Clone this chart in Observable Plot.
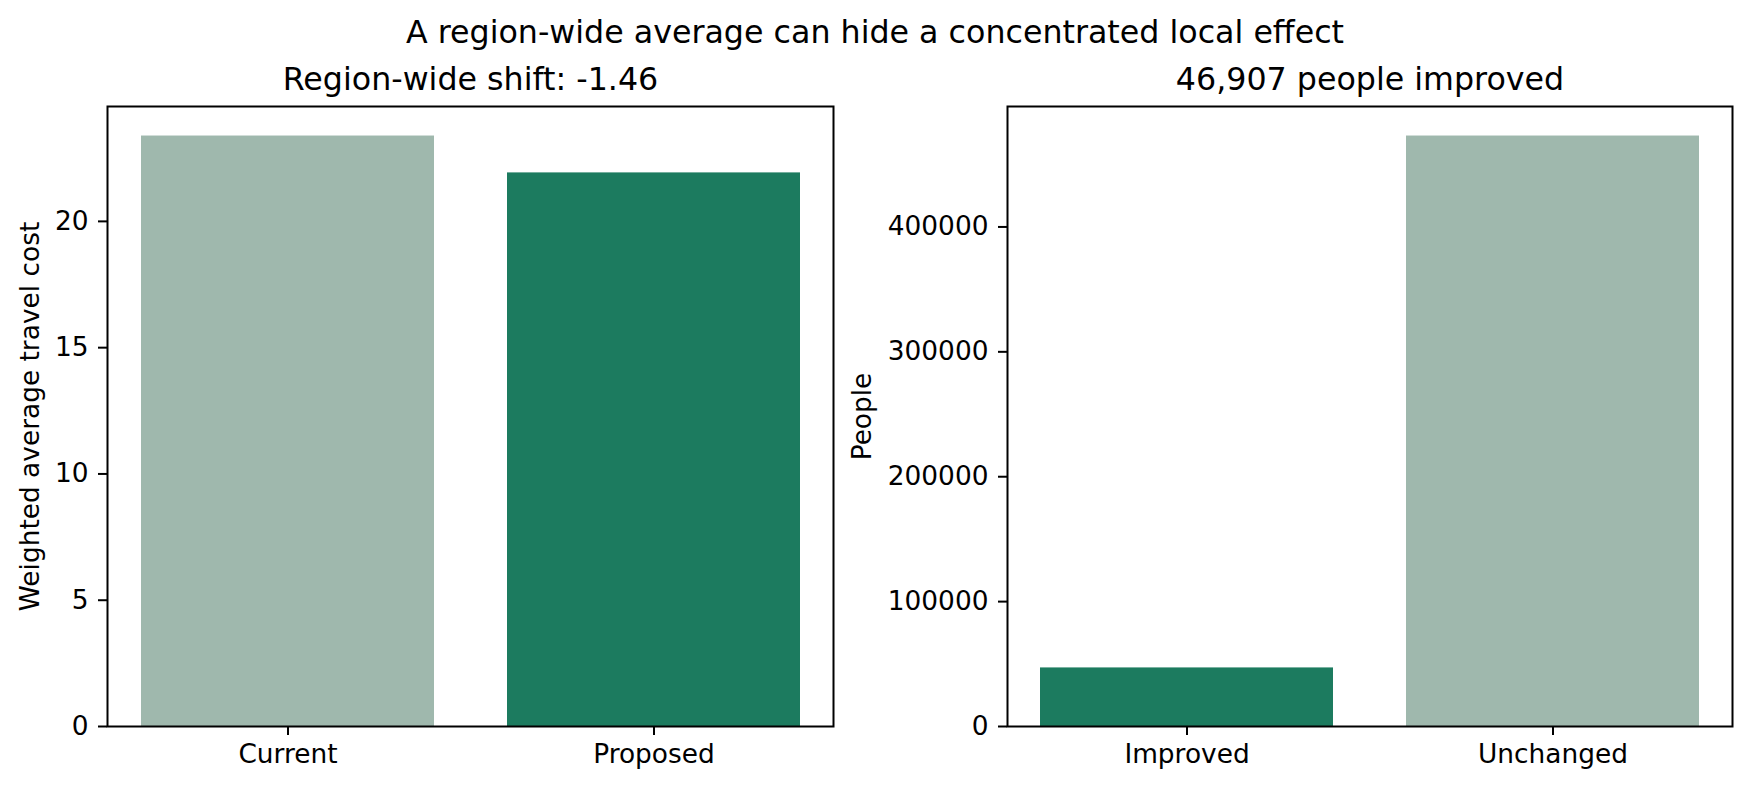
<!DOCTYPE html>
<html>
<head>
<meta charset="utf-8">
<script src="https://cdn.jsdelivr.net/npm/d3@7"></script>
<script src="https://cdn.jsdelivr.net/npm/@observablehq/plot@0.6"></script>
<style>
  body { margin: 0; background: white; font-family: "DejaVu Sans", sans-serif; }
  #fig { position: relative; width: 1750px; height: 790px; }
  #suptitle { position: absolute; left: 0; top: 0; width: 1750px; height: 64px; line-height: 64px; text-align: center; font-size: 31.7px; color: black; }
  #left { position: absolute; left: 0; top: 56px; }
  #right { position: absolute; left: 850px; top: 56px; }
</style>
</head>
<body>
<div id="fig">
  <div id="suptitle">A region-wide average can hide a concentrated local effect</div>
  <div id="left"></div>
  <div id="right"></div>
</div>
<script>
// values
const costLabels = ["Current", "Proposed"];
const costValues = [23.38, 21.92];
const costTicks = [0, 5, 10, 15, 20];

const peopleLabels = ["Improved", "Unchanged"];
const peopleValues = [46907, 472800];
const peopleTicks = [0, 100000, 200000, 300000, 400000];

const light = "#9fb8ad";
const dark = "#1c7b5f";
const highlighted = ["Proposed", "Improved"];

function panel({labels, values, ticks, title, ylabel, labelDx, marginLeft, marginRight, width}) {
  const data = labels.map((label, i) => ({label, value: values[i]}));
  return Plot.plot({
    width,
    height: 734,
    marginTop: 50,
    marginBottom: 64,
    marginLeft,
    marginRight,
    style: {fontFamily: "DejaVu Sans", fontSize: "26.4px", color: "black", background: "white", overflow: "visible"},
    x: {domain: labels, paddingInner: 0.2, paddingOuter: 0.09, label: null},
    // matplotlib style 5% headroom above the tallest bar
    y: {domain: [0, d3.max(values) * 1.05], label: null},
    marks: [
      Plot.barY(data, {x: "label", y: "value", fill: (d) => highlighted.includes(d.label) ? dark : light}),
      Plot.frame({stroke: "black", strokeWidth: 2}),
      Plot.axisY(ticks, {tickSize: 9, tickPadding: 10, strokeWidth: 2, tickFormat: d3.format("d"), label: null}),
      Plot.axisX({tickSize: 9, tickPadding: 9, strokeWidth: 2, label: null}),
      Plot.text([title], {frameAnchor: "top", dy: -27, fontSize: 31.7, lineAnchor: "middle"}),
      Plot.text([ylabel], {frameAnchor: "left", dx: labelDx, rotate: -90, textAnchor: "middle", lineAnchor: "middle"})
    ]
  });
}

const shift = costValues[1] - costValues[0];

document.getElementById("left").append(panel({
  labels: costLabels, values: costValues, ticks: costTicks,
  title: `Region-wide shift: ${shift.toFixed(2)}`,
  ylabel: "Weighted average travel cost",
  labelDx: -77, marginLeft: 107, marginRight: 17, width: 850
}));

document.getElementById("right").append(panel({
  labels: peopleLabels, values: peopleValues, ticks: peopleTicks,
  title: `${d3.format(",")(peopleValues[0])} people improved`,
  ylabel: "People",
  labelDx: -145, marginLeft: 157, marginRight: 18, width: 900
}));
</script>
</body>
</html>
